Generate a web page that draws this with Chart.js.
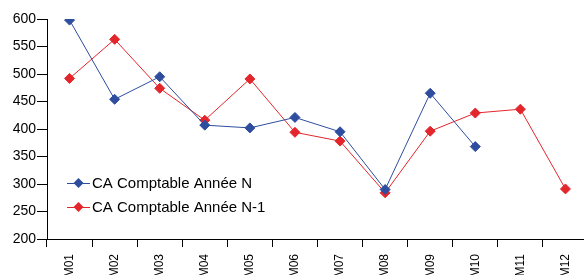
<!DOCTYPE html>
<html lang="fr">
<head>
<meta charset="utf-8">
<title>CA Comptable</title>
<script src="https://cdn.jsdelivr.net/npm/chart.js@4/dist/chart.umd.min.js"></script>
<style>
    html, body { margin: 0; padding: 0; background: #fff; overflow: hidden; }
    #cadre { position: relative; width: 600px; height: 290px; }
</style>
</head>
<body>
<div id="cadre"><canvas id="graphCA"></canvas></div>
<script>
/* ============================================================
   DONNÉES
============================================================ */
const mois = ["M01", "M02", "M03", "M04", "M05", "M06", "M07", "M08", "M09", "M10", "M11", "M12"];
const caAnneeN  = [598, 454, 495, 407, 402, 421, 395, 290, 465, 368, null, null];
const caAnneeN1 = [492, 563, 474, 416, 491, 394, 378, 284, 396, 429, 436, 291];
const graduationsY = [200, 250, 300, 350, 400, 450, 500, 550, 600];

const BLEU  = "#2E4D9F";
const ROUGE = "#E3262B";
const POLICE = "'Liberation Sans', Arial, sans-serif";

/* ============================================================
   LÉGENDE DANS LA ZONE DU GRAPHIQUE (en bas à gauche)
============================================================ */
const legendeInterne = {
    id: "legendeInterne",
    afterDraw(chart) {
        const ctx = chart.ctx;
        const x0 = 67, x1 = 90, yDebut = 183, pas = 24;
        ctx.save();
        chart.data.datasets.forEach((ds, i) => {
            const y = yDebut + i * pas;
            ctx.strokeStyle = ds.borderColor;
            ctx.lineWidth = 1;
            ctx.beginPath();
            ctx.moveTo(x0, y + 0.5);
            ctx.lineTo(x1, y + 0.5);
            ctx.stroke();

            // losange
            const cx = (x0 + x1) / 2, r = 5;
            ctx.fillStyle = ds.borderColor;
            ctx.beginPath();
            ctx.moveTo(cx, y - r);
            ctx.lineTo(cx + r, y);
            ctx.lineTo(cx, y + r);
            ctx.lineTo(cx - r, y);
            ctx.closePath();
            ctx.fill();

            ctx.fillStyle = "#000";
            ctx.font = "15px " + POLICE;
            ctx.textBaseline = "middle";
            ctx.fillText(ds.label, x1 + 2, y + 1);
        });
        ctx.restore();
    }
};

/* ============================================================
   GRAPHIQUE
============================================================ */
const serie = (label, data, couleur) => ({
    label,
    data,
    borderColor: couleur,
    backgroundColor: couleur,
    borderWidth: 1,
    tension: 0,
    pointStyle: "rectRot",
    pointRadius: 5,
    pointBorderWidth: 1,
    pointBackgroundColor: couleur,
    pointBorderColor: couleur
});

new Chart(document.getElementById("graphCA"), {
    type: "line",
    data: {
        labels: mois,
        datasets: [
            serie("CA Comptable Année N", caAnneeN, BLEU),
            serie("CA Comptable Année N-1", caAnneeN1, ROUGE)
        ]
    },
    options: {
        responsive: true,
        maintainAspectRatio: false,
        animation: false,
        layout: { padding: { top: 19, right: 12, left: 0, bottom: 0 } },
        plugins: {
            legend: { display: false },
            tooltip: { enabled: false }
        },
        scales: {
            x: {
                type: "category",
                offset: true,
                afterFit: (s) => { s.height = 51; },
                grid: {
                    display: true,
                    offset: true,
                    drawOnChartArea: false,
                    drawTicks: true,
                    tickLength: 8,
                    color: "#000"
                },
                border: { display: true, color: "#000", width: 1 },
                ticks: {
                    autoSkip: false,
                    minRotation: 90,
                    maxRotation: 90,
                    padding: 7,
                    color: "#000",
                    font: { family: POLICE, size: 12 }
                }
            },
            y: {
                min: 200,
                max: 600,
                afterFit: (s) => { s.width = 47; },
                afterBuildTicks: (s) => { s.ticks = graduationsY.map(v => ({ value: v })); },
                grid: {
                    display: true,
                    drawOnChartArea: false,
                    drawTicks: true,
                    tickLength: 10,
                    color: "#000"
                },
                border: { display: true, color: "#000", width: 1 },
                ticks: {
                    padding: 1,
                    color: "#000",
                    font: { family: POLICE, size: 14 }
                }
            }
        }
    },
    plugins: [legendeInterne]
});
</script>
</body>
</html>
